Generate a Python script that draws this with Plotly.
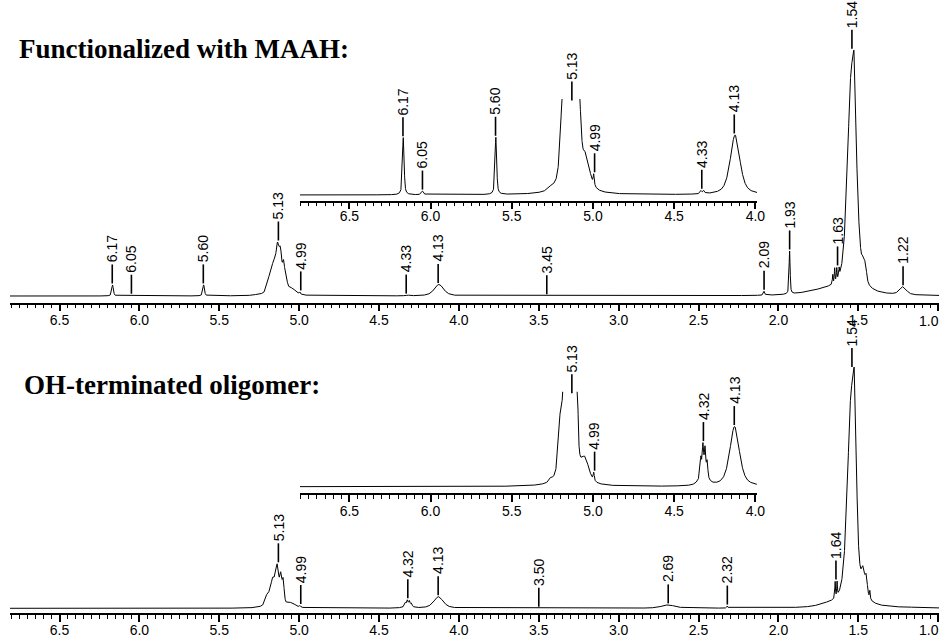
import numpy as np
import plotly.graph_objects as go

W, H = 941, 637

# ---------------- data ----------------
# Functionalized with MAAH: peak centres (ppm), heights (a.u.), half-widths (ppm)
top_centres = [6.168, 6.05, 5.598, 5.26, 5.19, 5.16, 5.135, 5.117, 5.097, 5.08, 5.045, 4.995,
               4.335, 4.318, 4.125, 3.45, 2.09, 1.93, 1.70, 1.66, 1.648, 1.635, 1.62,
               1.545, 1.523, 1.50, 1.47, 1.455, 1.22]
top_heights = [11, 0.7, 11, 0.5, 10, 28, 36, 32, 25, 8, 6, 2,
               0.6, 0.6, 11.5, 0.2, 4, 43, 5, 9, 14, 12, 8,
               205, 100, 20, 15, 15, 8]
top_widths = [0.006, 0.008, 0.006, 0.02, 0.015, 0.02, 0.012, 0.010, 0.009, 0.01, 0.03, 0.004,
              0.006, 0.006, 0.035, 0.01, 0.005, 0.004, 0.15, 0.0025, 0.0025, 0.0025, 0.0025,
              0.028, 0.012, 0.015, 0.01, 0.008, 0.025]

# OH-terminated oligomer
bot_centres = [5.26, 5.20, 5.165, 5.137, 5.115, 5.10, 5.05, 4.995,
               4.336, 4.323, 4.31, 4.297, 4.32, 4.128, 2.69, 2.32, 1.70, 1.645, 1.633,
               1.545, 1.522, 1.47, 1.45, 1.428, 1.20]
bot_heights = [0.6, 10, 26, 35, 25, 22, 4.5, 1.5,
               3.5, 5.5, 5, 3, 2, 11.5, 3.3, 2, 2, 16, 14,
               200, 110, 22, 18, 8, 0.8]
bot_widths = [0.01, 0.015, 0.018, 0.012, 0.008, 0.007, 0.03, 0.004,
              0.005, 0.005, 0.005, 0.005, 0.03, 0.035, 0.05, 0.004, 0.06, 0.0025, 0.0025,
              0.028, 0.012, 0.012, 0.008, 0.003, 0.03]

top_labels = ["6.17", "6.05", "5.60", "5.13", "4.99", "4.33", "4.13", "3.45",
              "2.09", "1.93", "1.63", "1.54", "1.22"]
top_inset_labels = ["6.17", "6.05", "5.60", "5.13", "4.99", "4.33", "4.13"]
bot_labels = ["5.13", "4.99", "4.32", "4.13", "3.50", "2.69", "2.32", "1.64", "1.54"]
bot_inset_labels = ["5.13", "4.99", "4.32", "4.13"]

main_ticks = [6.5, 6.0, 5.5, 5.0, 4.5, 4.0, 3.5, 3.0, 2.5, 2.0, 1.5, 1.0]
inset_ticks = [6.5, 6.0, 5.5, 5.0, 4.5, 4.0]

titles = ["Functionalized with MAAH:", "OH-terminated oligomer:"]

# ---------------- spectrum construction ----------------
ppm = np.arange(0.99, 6.82, 0.0005)


def spectrum(centres, heights, widths, eta=0.6):
    y = np.zeros_like(ppm)
    for c, h, w in zip(centres, heights, widths):
        d = (ppm - c) / w
        y += h * (eta / (1 + d * d) + (1 - eta) * np.exp(-np.log(2) * d * d))
    return y


top_y = spectrum(top_centres, top_heights, top_widths)
bot_y = spectrum(bot_centres, bot_heights, bot_widths)

# ---------------- layout geometry (pixels) ----------------
FONT = "Liberation Sans, Arial, sans-serif"
main_x = [10, 939]
main_rng = [6.81, 0.995]
ins_x = [300, 757]
ins_rng = [6.804, 3.99]
SCALE = 5.2  # inset vertical magnification

# name: (x domain px, x range, axis y px, baseline px, top px, px per unit, ticks, standoff)
axes = {
    "1": (main_x, main_rng, 302.7, 296.0, 20, 1.0, main_ticks, -3),
    "2": (ins_x, ins_rng, 200.7, 195.0, 99, SCALE, inset_ticks, -5),
    "3": (main_x, main_rng, 613.3, 608.3, 330, 1.0, main_ticks, -4),
    "4": (ins_x, ins_rng, 493.3, 486.7, 391.7, SCALE, inset_ticks, -3),
}


def xpx(k, p):
    xd, xr = axes[k][0], axes[k][1]
    return xd[0] + (p - xr[0]) / (xr[1] - xr[0]) * (xd[1] - xd[0])


def ypx(k, v):
    base, s = axes[k][3], axes[k][5]
    return base - v * s


fig = go.Figure()
series = {"1": top_y, "2": top_y, "3": bot_y, "4": bot_y}
for k, ys in series.items():
    xr = "x" if k == "1" else "x" + k
    yr = "y" if k == "1" else "y" + k
    fig.add_trace(go.Scatter(x=ppm, y=ys, mode="lines", xaxis=xr, yaxis=yr,
                             line=dict(color="black", width=1), hoverinfo="skip",
                             showlegend=False))

layout = dict(template="none", width=W, height=H, margin=dict(l=0, r=0, t=0, b=0, pad=0),
              paper_bgcolor="white", plot_bgcolor="rgba(0,0,0,0)", showlegend=False)
for k, (xd, xrng, yb, base, yt, s, tv, so) in axes.items():
    xname = "xaxis" if k == "1" else "xaxis" + k
    yname = "yaxis" if k == "1" else "yaxis" + k
    ttext = ["%.1f" % t for t in tv]
    if k in ("1", "3"):
        ttext[-1] = ""  # right-most label drawn separately so it stays inside the page
    layout[xname] = dict(
        domain=[xd[0] / W, xd[1] / W], range=xrng, anchor=("y" if k == "1" else "y" + k),
        showline=True, linecolor="black", linewidth=1.5, mirror=False,
        ticks="outside", ticklen=7, tickwidth=1.5, tickcolor="black",
        tickmode="array", tickvals=tv, ticktext=ttext, ticklabelstandoff=so,
        showgrid=False, zeroline=False, automargin=False,
        tickfont=dict(family=FONT, size=14, color="black"),
        minor=dict(ticks="outside", ticklen=4, tickwidth=1, tickcolor="black",
                   tickmode="linear", tick0=0, dtick=0.05, showgrid=False),
        fixedrange=True,
    )
    layout[yname] = dict(
        domain=[1 - yb / H, 1 - yt / H], range=[-(yb - base) / s, (base - yt) / s],
        visible=False, fixedrange=True, automargin=False,
        anchor=("x" if k == "1" else "x" + k),
    )
fig.update_layout(**layout)

# ---------------- peak labels ----------------
GAP, LEN = 1.5, 19
annotations = []
shapes = []


def add_labels(labels, ys, k):
    yt = axes[k][4]
    for lab in labels:
        p = float(lab)
        m = (ppm > p - 0.012) & (ppm < p + 0.012)
        v = float(ys[m].max())
        y_peak = max(ypx(k, v), yt + 3)
        x = xpx(k, p)
        y_low = y_peak - GAP
        y_high = y_low - LEN
        shapes.append(dict(type="line", xref="paper", yref="paper",
                           x0=x / W, x1=x / W, y0=1 - y_low / H, y1=1 - y_high / H,
                           line=dict(color="black", width=1.6)))
        annotations.append(dict(
            x=x / W, y=1 - (y_high - 1) / H, xref="paper", yref="paper",
            text=lab, textangle=-90, showarrow=False,
            xanchor="center", yanchor="bottom", borderpad=0,
            font=dict(family=FONT, size=14, color="black")))


add_labels(top_labels, top_y, "1")
add_labels(top_inset_labels, top_y, "2")
add_labels(bot_labels, bot_y, "3")
add_labels(bot_inset_labels, bot_y, "4")

# right-most main-axis tick labels
for k, dy in (("1", 18), ("3", 17)):
    annotations.append(dict(text="%.1f" % main_ticks[-1], xref="paper", yref="paper",
                            x=941 / W, y=1 - (axes[k][2] + dy) / H,
                            xanchor="right", yanchor="middle", showarrow=False,
                            font=dict(family=FONT, size=14, color="black")))

title_pos = [(17, 49), (22, 385)]
for t, (px, py) in zip(titles, title_pos):
    annotations.append(dict(text="<b>" + t + "</b>", xref="paper", yref="paper",
                            x=px / W, y=1 - py / H, xanchor="left", yanchor="middle",
                            showarrow=False,
                            font=dict(family="Liberation Serif, Times New Roman, serif",
                                      size=27, color="black")))

fig.update_layout(annotations=annotations, shapes=shapes)
fig.write_html("out.html", config={"displayModeBar": False},
               post_script="document.body.style.margin='0';document.body.style.padding='0';")
